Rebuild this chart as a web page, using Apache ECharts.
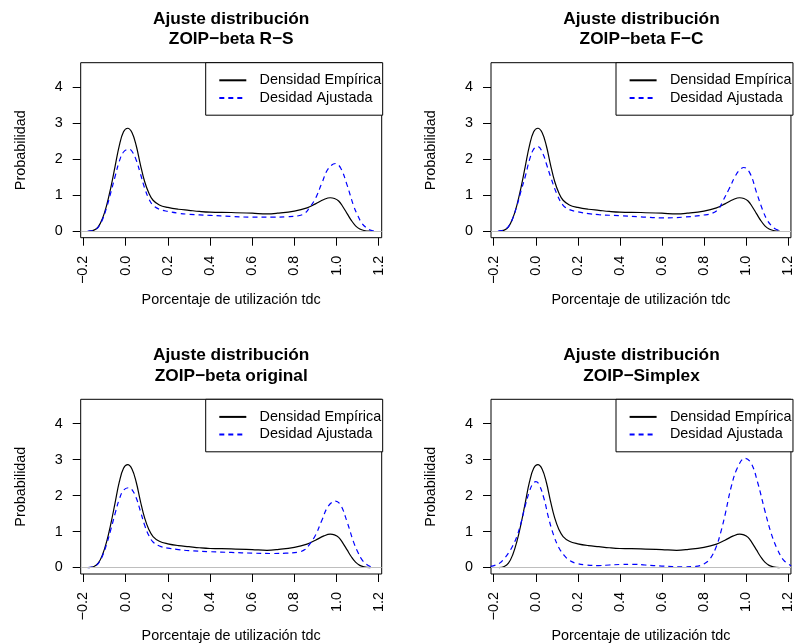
<!DOCTYPE html>
<html>
<head>
<meta charset="utf-8">
<script src="https://cdn.jsdelivr.net/npm/echarts@6/dist/echarts.min.js"></script>
<style>
  html, body { margin: 0; padding: 0; background: #fff; }
  #chart { width: 795px; height: 644px; }
</style>
</head>
<body>
<div id="chart"></div>
<script>
// Panel titles (two lines each)
const panelTitles = [
  'Ajuste distribución\nZOIP−beta R−S',
  'Ajuste distribución\nZOIP−beta F−C',
  'Ajuste distribución\nZOIP−beta original',
  'Ajuste distribución\nZOIP−Simplex'
];

const legendNames = ['Densidad Empírica', 'Desidad Ajustada'];
const xAxisTitle = 'Porcentaje de utilización tdc';
const yAxisTitle = 'Probabilidad';

// Tick positions
const xTicks = [-0.2, 0, 0.2, 0.4, 0.6, 0.8, 1.0, 1.2];
const yTicks = [0, 1, 2, 3, 4];

// Empirical kernel density of the utilisation percentage [x, density]
const empirical = [
  [-0.175, 0.0], [-0.15, 0.03], [-0.13, 0.12], [-0.11, 0.35], [-0.09, 0.72],
  [-0.07, 1.22], [-0.05, 1.8], [-0.03, 2.38], [-0.01, 2.76], [0.01, 2.86],
  [0.03, 2.74], [0.05, 2.38], [0.07, 1.85], [0.09, 1.38], [0.11, 1.06],
  [0.13, 0.86], [0.16, 0.73], [0.2, 0.66], [0.25, 0.61], [0.3, 0.58],
  [0.35, 0.55], [0.4, 0.53], [0.5, 0.52], [0.6, 0.5], [0.67, 0.48],
  [0.72, 0.5], [0.8, 0.56], [0.86, 0.65], [0.9, 0.76], [0.94, 0.88],
  [0.97, 0.93], [0.99, 0.91], [1.01, 0.84], [1.03, 0.68], [1.05, 0.49],
  [1.07, 0.3], [1.09, 0.15], [1.11, 0.06], [1.13, 0.02], [1.16, 0.0]
];

// Fitted densities
const fitRS = [
  [-0.18, 0.0], [-0.15, 0.03], [-0.13, 0.11], [-0.11, 0.32], [-0.09, 0.66],
  [-0.07, 1.08], [-0.05, 1.52], [-0.03, 1.94], [-0.01, 2.2], [0.015, 2.28],
  [0.03, 2.22], [0.05, 1.98], [0.07, 1.6], [0.09, 1.2], [0.11, 0.9],
  [0.13, 0.72], [0.16, 0.61], [0.2, 0.55], [0.25, 0.5], [0.3, 0.47],
  [0.4, 0.44], [0.5, 0.41], [0.6, 0.39], [0.7, 0.39], [0.76, 0.4],
  [0.82, 0.43], [0.85, 0.5], [0.87, 0.64], [0.9, 0.91], [0.93, 1.33],
  [0.96, 1.73], [0.995, 1.88], [1.02, 1.75], [1.05, 1.28], [1.08, 0.72],
  [1.1, 0.44], [1.12, 0.22], [1.14, 0.1], [1.16, 0.03], [1.18, 0.0]
];

const fitFC = [
  [-0.18, 0.0], [-0.15, 0.04], [-0.13, 0.13], [-0.11, 0.35], [-0.09, 0.7],
  [-0.07, 1.12], [-0.05, 1.52], [-0.03, 1.98], [-0.01, 2.28], [0.01, 2.35],
  [0.035, 2.14], [0.05, 1.88], [0.07, 1.52], [0.1, 1.04], [0.13, 0.72],
  [0.16, 0.6], [0.2, 0.54], [0.25, 0.49], [0.3, 0.46], [0.4, 0.43],
  [0.5, 0.4], [0.6, 0.37], [0.7, 0.39], [0.8, 0.45], [0.84, 0.5],
  [0.87, 0.62], [0.89, 0.84], [0.92, 1.18], [0.95, 1.54], [0.97, 1.7],
  [0.99, 1.77], [1.02, 1.6], [1.05, 1.08], [1.08, 0.58], [1.1, 0.32],
  [1.12, 0.16], [1.145, 0.05], [1.17, 0.01]
];

const fitOriginal = [
  [-0.18, 0.0], [-0.15, 0.03], [-0.13, 0.11], [-0.11, 0.32], [-0.09, 0.65],
  [-0.07, 1.06], [-0.05, 1.5], [-0.03, 1.9], [-0.01, 2.15], [0.015, 2.22],
  [0.03, 2.17], [0.05, 1.94], [0.07, 1.57], [0.09, 1.18], [0.11, 0.89],
  [0.13, 0.71], [0.16, 0.6], [0.2, 0.54], [0.25, 0.5], [0.3, 0.47],
  [0.4, 0.44], [0.5, 0.42], [0.6, 0.4], [0.7, 0.39], [0.76, 0.4],
  [0.82, 0.43], [0.85, 0.5], [0.87, 0.63], [0.9, 0.9], [0.93, 1.31],
  [0.96, 1.7], [0.995, 1.85], [1.02, 1.73], [1.05, 1.27], [1.08, 0.72],
  [1.1, 0.44], [1.12, 0.22], [1.14, 0.1], [1.16, 0.03], [1.18, 0.0]
];

const fitSimplex = [
  [-0.215, 0.03], [-0.19, 0.07], [-0.17, 0.13], [-0.15, 0.25], [-0.13, 0.4],
  [-0.11, 0.6], [-0.09, 0.86], [-0.07, 1.25], [-0.05, 1.72], [-0.03, 2.12],
  [-0.015, 2.32], [0.0, 2.39], [0.015, 2.32], [0.04, 1.9], [0.06, 1.4],
  [0.085, 0.9], [0.11, 0.55], [0.135, 0.34], [0.16, 0.2], [0.19, 0.12],
  [0.24, 0.07], [0.3, 0.055], [0.35, 0.07], [0.4, 0.085], [0.46, 0.09],
  [0.52, 0.07], [0.6, 0.04], [0.7, 0.02], [0.76, 0.03], [0.8, 0.1],
  [0.83, 0.25], [0.86, 0.6], [0.88, 0.98], [0.9, 1.45], [0.93, 2.25],
  [0.96, 2.78], [0.995, 3.04], [1.025, 2.9], [1.055, 2.38], [1.09, 1.58],
  [1.12, 0.95], [1.15, 0.5], [1.18, 0.2], [1.215, 0.05]
];

const fits = [fitRS, fitFC, fitOriginal, fitSimplex];

// Layout of the 2x2 panels
const FONT = '"Liberation Sans", Arial, Helvetica, sans-serif';
const BOX_W = 301, BOX_H = 175;
const colLeft = [80.7, 491];
const rowTop = [62.7, 399.3];
const X_MIN = -0.213, X_MAX = 1.214;
const Y_MIN = -0.18, Y_MAX = 4.68;

const fmtTick = v => Number(v).toFixed(1).replace('-', '−');

const option = {
  animation: false,
  title: [], grid: [], xAxis: [], yAxis: [], legend: [], series: []
};

panelTitles.forEach((t, i) => {
  const left = colLeft[i % 2];
  const top = rowTop[Math.floor(i / 2)];
  const center = left + BOX_W / 2;

  option.title.push({
    text: t,
    left: center,
    top: top - 54.2,
    textAlign: 'center',
    padding: 0,
    textStyle: { fontFamily: FONT, fontSize: 17.28, fontWeight: 'bold', color: '#000', lineHeight: 20.7 }
  });

  option.grid.push({ left: left, top: top, width: BOX_W, height: BOX_H, show: true, borderColor: '#000' });

  option.xAxis.push({
    type: 'value', gridIndex: i, min: X_MIN, max: X_MAX,
    name: xAxisTitle, nameLocation: 'middle', nameGap: 55,
    nameTextStyle: { fontFamily: FONT, fontSize: 14.4, color: '#000' },
    axisLine: { show: false, onZero: false },
    splitLine: { show: false },
    axisTick: { show: true, inside: false, length: 8, customValues: xTicks, lineStyle: { color: '#000', width: 1 } },
    axisLabel: { customValues: xTicks, rotate: 90, margin: 18, fontSize: 14.4, color: '#000', fontFamily: FONT, formatter: fmtTick }
  });

  option.yAxis.push({
    type: 'value', gridIndex: i, min: Y_MIN, max: Y_MAX,
    name: yAxisTitle, nameLocation: 'middle', nameGap: 53, nameRotate: 90,
    nameTextStyle: { fontFamily: FONT, fontSize: 14.4, color: '#000' },
    axisLine: { show: false, onZero: false },
    splitLine: { show: false },
    axisTick: { show: true, inside: false, length: 8, customValues: yTicks, lineStyle: { color: '#000', width: 1 } },
    axisLabel: { customValues: yTicks, margin: 18, fontSize: 14.4, color: '#000', fontFamily: FONT }
  });

  option.legend.push({
    orient: 'vertical',
    left: left + 125, top: top,
    padding: [9.6, 1.5, 9.3, 12.6],
    itemWidth: 27, itemHeight: 16, itemGap: 1.6,
    selectedMode: false,
    borderColor: '#000', borderWidth: 1, borderRadius: 0, backgroundColor: '#fff',
    // line-only key: the point marker is made invisible
    itemStyle: { color: 'rgba(0,0,0,0)', borderWidth: 0, opacity: 0 },
    textStyle: { fontFamily: FONT, fontSize: 14.4, lineHeight: 16, color: '#000', padding: [0, 0, 0, 8.3] },
    data: legendNames
  });

  option.series.push({
    name: legendNames[0], type: 'line', xAxisIndex: i, yAxisIndex: i,
    data: empirical, smooth: 0.4, symbol: 'none',
    lineStyle: { color: '#000', width: 1.2, type: 'solid' },
    itemStyle: { color: '#000' },
    markLine: {
      silent: true, symbol: ['none', 'none'], animation: false,
      label: { show: false },
      lineStyle: { color: '#bebebe', width: 1, type: 'solid' },
      data: [{ yAxis: 0 }]
    }
  });

  option.series.push({
    name: legendNames[1], type: 'line', xAxisIndex: i, yAxisIndex: i,
    data: fits[i], smooth: 0.4, symbol: 'none',
    lineStyle: { color: '#0000ff', width: 1.2, type: [5, 4] },
    itemStyle: { color: '#0000ff' }
  });
});

const chart = echarts.init(document.getElementById('chart'));
chart.setOption(option);
</script>
</body>
</html>
